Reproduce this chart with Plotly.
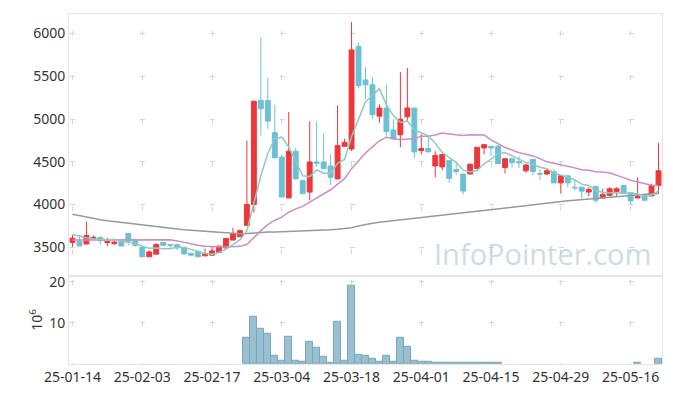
import plotly.graph_objects as go

dates = [
    "25-01-14","25-01-15","25-01-16","25-01-17","25-01-20","25-01-21","25-01-22","25-01-23","25-01-24","25-01-31",
    "25-02-03","25-02-04","25-02-05","25-02-06","25-02-07","25-02-10","25-02-11","25-02-12","25-02-13","25-02-14",
    "25-02-17","25-02-18","25-02-19","25-02-20","25-02-21","25-02-24","25-02-25","25-02-26","25-02-27","25-02-28",
    "25-03-04","25-03-05","25-03-06","25-03-07","25-03-10","25-03-11","25-03-12","25-03-13","25-03-14","25-03-17",
    "25-03-18","25-03-19","25-03-20","25-03-21","25-03-24","25-03-25","25-03-26","25-03-27","25-03-28","25-03-31",
    "25-04-01","25-04-02","25-04-03","25-04-04","25-04-07","25-04-08","25-04-09","25-04-10","25-04-11","25-04-14",
    "25-04-15","25-04-16","25-04-17","25-04-18","25-04-21","25-04-22","25-04-23","25-04-24","25-04-25","25-04-28",
    "25-04-29","25-04-30","25-05-02","25-05-07","25-05-08","25-05-09","25-05-12","25-05-13","25-05-14","25-05-15",
    "25-05-16","25-05-19","25-05-20","25-05-21","25-05-22",
]

opens = [3557,3572,3538,3595,3615,3554,3542,3572,3661,3577,
         3500,3389,3420,3557,3531,3531,3500,3431,3454,3400,
         3408,3439,3492,3584,3623,3756,4001,5217,5217,4842,
         4555,4077,4624,4280,4146,4498,4498,4452,4300,4681,
         4650,5848,5458,5401,5034,5129,4873,4816,5026,5129,
         4632,4655,4452,4440,4517,4410,4357,4357,4421,4662,
         4681,4681,4433,4536,4502,4395,4529,4364,4357,4383,
         4253,4337,4203,4203,4146,4211,4077,4108,4154,4223,
         4139,4077,4108,4100,4223]
highs = [3645,3641,3802,3638,3630,3611,3572,3588,3661,3603,
         3500,3466,3542,3557,3531,3531,3500,3431,3454,3485,
         3496,3515,3611,3726,3710,4750,5209,5955,5484,5167,
         4586,5083,4662,4280,4976,4976,4827,4586,5160,4770,
         6135,5894,5607,5492,5171,5401,4999,5550,5599,5129,
         4823,4796,4624,4586,4517,4498,4357,4483,4670,4701,
         4689,4701,4536,4536,4567,4475,4529,4414,4414,4414,
         4337,4337,4280,4203,4203,4211,4185,4203,4203,4223,
         4139,4318,4108,4242,4720]
lows = [3505,3515,3538,3580,3534,3515,3530,3515,3523,3508,
        3385,3389,3420,3523,3485,3466,3412,3393,3389,3400,
        3408,3439,3492,3584,3623,3756,3905,4808,4884,4547,
        4088,4077,4300,4127,4050,4440,4421,4231,4300,4681,
        4627,5358,5235,5006,4957,4796,4770,4670,4968,4540,
        4586,4616,4318,4403,4253,4349,4119,4357,4421,4586,
        4567,4478,4364,4433,4426,4372,4345,4288,4345,4253,
        4127,4203,4165,4070,4096,4020,4077,4096,4096,4127,
        3993,4077,4050,4100,4127]
closes = [3607,3515,3638,3618,3577,3572,3561,3515,3572,3523,
          3389,3446,3534,3523,3523,3492,3423,3408,3389,3423,
          3458,3515,3603,3657,3695,4001,5209,5121,4976,4547,
          4088,4624,4300,4127,4498,4483,4421,4318,4690,4727,
          5809,5389,5401,5052,5129,4853,4770,4999,5129,4616,
          4655,4616,4575,4586,4306,4387,4158,4471,4670,4701,
          4662,4478,4536,4490,4490,4463,4387,4357,4395,4253,
          4337,4253,4196,4157,4177,4050,4119,4185,4185,4127,
          4043,4096,4050,4223,4395]

ma5 = [3649,3628,3612,3600,3591,3584,3593,3569,3559,3549,
       3512,3489,3493,3483,3483,3504,3499,3474,3447,3427,
       3420,3439,3478,3531,3586,3694,4033,4337,4600,4771,
       4788,4671,4507,4337,4327,4406,4366,4369,4482,4528,
       4793,4987,5203,5276,5356,5165,5041,4961,4976,4873,
       4834,4803,4718,4610,4548,4494,4402,4382,4398,4477,
       4532,4596,4609,4573,4531,4491,4473,4437,4418,4371,
       4346,4319,4287,4239,4224,4167,4140,4138,4143,4133,
       4132,4127,4100,4108,4161]
ma20 = [3586,3586,3587,3587,3586,3585,3584,3584,3585,3586,
        3587,3588,3590,3591,3588,3575,3556,3538,3524,3512,
        3505,3505,3503,3505,3511,3533,3615,3695,3765,3817,
        3852,3910,3949,3979,4028,4077,4127,4173,4238,4303,
        4420,4514,4604,4674,4746,4788,4766,4760,4768,4771,
        4800,4799,4813,4836,4826,4821,4808,4816,4815,4814,
        4756,4711,4667,4639,4607,4588,4569,4537,4500,4482,
        4466,4448,4429,4407,4401,4384,4382,4368,4344,4315,
        4284,4265,4241,4227,4222]
ma_long = [3886,3868,3852,3836,3822,3810,3800,3790,3780,3772,
           3764,3756,3738,3728,3720,3712,3705,3698,3692,3686,
           3681,3677,3670,3664,3658,3660,3668,3674,3678,3680,
           3682,3684,3686,3690,3694,3697,3700,3704,3710,3716,
           3730,3750,3768,3780,3792,3802,3812,3822,3832,3842,
           3852,3862,3870,3880,3888,3896,3906,3914,3922,3932,
           3942,3952,3962,3972,3983,3992,4002,4012,4020,4028,
           4036,4044,4051,4058,4066,4074,4082,4090,4098,4104,
           4110,4115,4120,4125,4130]

volume_m = [0,0,0,0,0,0,0,0,0,0,
            0,0,0,0,0,0,0,0,0,0,
            0,0,0,0,0,6.4,11.6,8.7,7.3,2.1,
            0.7,6.6,0.9,0.5,5.4,4.0,1.65,0.3,10.2,0.9,
            19.1,2.35,2.1,1.2,0.5,2.1,0.5,6.4,4.25,0.7,
            0.5,0.5,0.3,0.3,0.3,0.3,0.3,0.3,0.3,0.3,
            0.3,0.3,0,0,0,0,0,0,0,0,
            0,0,0,0,0,0,0,0,0,0,
            0,0.3,0,0,1.25]

tick_dates = ["25-01-14","25-02-03","25-02-17","25-03-04","25-03-18",
              "25-04-01","25-04-15","25-04-29","25-05-16"]
price_ticks = [3500, 4000, 4500, 5000, 5500, 6000]
volume_ticks = [10, 20]

RED = "#ee373b"
BLUE = "#6cc0d6"
GRID = "#d6d6d6"
BORDER = "#e4e4e4"
FONT = "Noto Sans"

fig = go.Figure()
fig.add_trace(go.Candlestick(
    x=dates, open=opens, high=highs, low=lows, close=closes,
    increasing=dict(line=dict(color=RED, width=1), fillcolor=RED),
    decreasing=dict(line=dict(color=BLUE, width=1), fillcolor=BLUE),
    whiskerwidth=0, xaxis="x", yaxis="y", hoverinfo="skip", showlegend=False))
fig.add_trace(go.Scatter(x=dates, y=ma_long, mode="lines",
                         line=dict(color="#999999", width=1.5), xaxis="x", yaxis="y"))
fig.add_trace(go.Scatter(x=dates, y=ma20, mode="lines",
                         line=dict(color="#cc8cc6", width=1.5), xaxis="x", yaxis="y"))
fig.add_trace(go.Scatter(x=dates, y=ma5, mode="lines",
                         line=dict(color="#8ccbbd", width=1.5), xaxis="x", yaxis="y"))
bar_line_w = [1 if v > 0 else 0 for v in volume_m]
fig.add_trace(go.Bar(x=dates, y=volume_m, xaxis="x2", yaxis="y2",
                     marker=dict(color="#99c0d0", line=dict(color="#7aa6ba", width=bar_line_w))))

split = 0.2521
tickfont = dict(family=FONT, size=14, color="#333333")
hdash = "0px,1px,5px,63.88px"

fig.update_layout(
    width=673, height=396, autosize=False,
    margin=dict(l=69, r=10, t=10, b=29, pad=0),
    paper_bgcolor="white", plot_bgcolor="white",
    showlegend=False, bargap=0, boxgap=0.3, boxgroupgap=0,
    font=dict(family=FONT, color="#333333"),
    xaxis=dict(type="category", domain=[0, 1], anchor="y", range=[-0.5, 84.5],
               tickmode="array", tickvals=tick_dates, showticklabels=False, ticks="",
               showgrid=True, gridcolor=GRID, griddash="0px,17.47px,5px,21.13px",
               showline=True, mirror=True, linecolor=BORDER, linewidth=1,
               rangeslider=dict(visible=False), zeroline=False),
    yaxis=dict(domain=[split, 1], anchor="x", range=[3167, 6229],
               tickmode="array", tickvals=price_ticks, tickfont=tickfont, ticks="",
               showgrid=True, gridcolor=GRID, griddash=hdash,
               showline=True, mirror=True, linecolor=BORDER, linewidth=1, zeroline=False),
    xaxis2=dict(type="category", domain=[0, 1], anchor="y2", matches="x", range=[-0.5, 84.5],
                tickmode="array", tickvals=tick_dates, ticktext=tick_dates, tickfont=tickfont,
                ticks="", showgrid=True, gridcolor=GRID, griddash="0px,3.78px,5px,33.08px",
                showline=True, mirror=True, linecolor=BORDER, linewidth=1, zeroline=False),
    yaxis2=dict(domain=[0, split], anchor="x2", range=[0, 21.5],
                tickmode="array", tickvals=volume_ticks, tickfont=tickfont, ticks="",
                showgrid=True, gridcolor=GRID, griddash=hdash,
                showline=True, mirror=True, linecolor=BORDER, linewidth=1, zeroline=False,
                title=dict(text="10<sup>6</sup>", standoff=3,
                           font=dict(family=FONT, size=14, color="#333333"))),
    annotations=[dict(text="InfoPointer.com", xref="paper", yref="paper",
                      x=0.985, y=0.315, xanchor="right", yanchor="middle", showarrow=False,
                      font=dict(family="Open Sans", size=29, color="rgba(150,186,206,0.5)"))],
)

fig.write_html("out.html", config={"displayModeBar": False},
               post_script="document.body.style.margin='0';")
